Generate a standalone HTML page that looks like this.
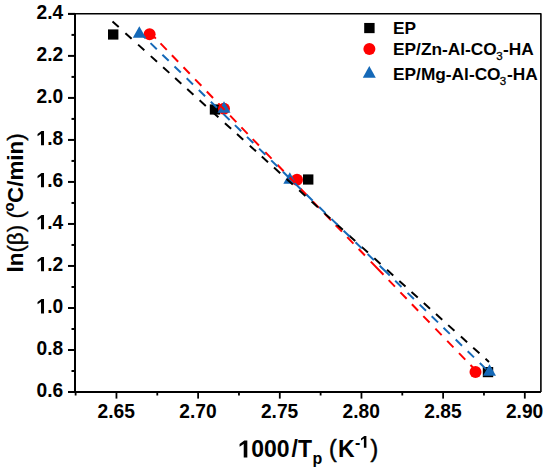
<!DOCTYPE html><html><head><meta charset="utf-8"><style>html,body{margin:0;padding:0;background:#fff;}svg{display:block;}text{font-family:"Liberation Sans",sans-serif;font-weight:bold;fill:#000;}</style></head><body>
<svg width="550" height="472" viewBox="0 0 550 472">
<path d="M68 13.75 L540.9 13.75 L540.9 392" fill="none" stroke="#000" stroke-width="1.6" stroke-linejoin="round"/>
<path d="M75 13.75 L75 392 L540.9 392" fill="none" stroke="#000" stroke-width="2"/>
<line x1="68" y1="392.00" x2="75" y2="392.00" stroke="#000" stroke-width="2"/>
<text transform="translate(36.61,397.40) scale(1,1.08)" font-size="19.2">0.6</text>
<line x1="68" y1="349.99" x2="75" y2="349.99" stroke="#000" stroke-width="2"/>
<text transform="translate(36.61,355.39) scale(1,1.08)" font-size="19.2">0.8</text>
<line x1="68" y1="307.98" x2="75" y2="307.98" stroke="#000" stroke-width="2"/>
<path d="M470 0L470 1120L100 890L100 1130L520 1409L790 1409L790 0Z" transform="translate(36.61,313.38) scale(0.00937,-0.01013)" fill="#000"/>
<text transform="translate(47.29,313.38) scale(1,1.08)" font-size="19.2">.0</text>
<line x1="68" y1="265.96" x2="75" y2="265.96" stroke="#000" stroke-width="2"/>
<path d="M470 0L470 1120L100 890L100 1130L520 1409L790 1409L790 0Z" transform="translate(36.61,271.36) scale(0.00937,-0.01013)" fill="#000"/>
<text transform="translate(47.29,271.36) scale(1,1.08)" font-size="19.2">.2</text>
<line x1="68" y1="223.95" x2="75" y2="223.95" stroke="#000" stroke-width="2"/>
<path d="M470 0L470 1120L100 890L100 1130L520 1409L790 1409L790 0Z" transform="translate(36.61,229.35) scale(0.00937,-0.01013)" fill="#000"/>
<text transform="translate(47.29,229.35) scale(1,1.08)" font-size="19.2">.4</text>
<line x1="68" y1="181.94" x2="75" y2="181.94" stroke="#000" stroke-width="2"/>
<path d="M470 0L470 1120L100 890L100 1130L520 1409L790 1409L790 0Z" transform="translate(36.61,187.34) scale(0.00937,-0.01013)" fill="#000"/>
<text transform="translate(47.29,187.34) scale(1,1.08)" font-size="19.2">.6</text>
<line x1="68" y1="139.93" x2="75" y2="139.93" stroke="#000" stroke-width="2"/>
<path d="M470 0L470 1120L100 890L100 1130L520 1409L790 1409L790 0Z" transform="translate(36.61,145.33) scale(0.00937,-0.01013)" fill="#000"/>
<text transform="translate(47.29,145.33) scale(1,1.08)" font-size="19.2">.8</text>
<line x1="68" y1="97.92" x2="75" y2="97.92" stroke="#000" stroke-width="2"/>
<text transform="translate(36.61,103.32) scale(1,1.08)" font-size="19.2">2.0</text>
<line x1="68" y1="55.90" x2="75" y2="55.90" stroke="#000" stroke-width="2"/>
<text transform="translate(36.61,61.30) scale(1,1.08)" font-size="19.2">2.2</text>
<line x1="68" y1="13.89" x2="75" y2="13.89" stroke="#000" stroke-width="2"/>
<text transform="translate(36.61,19.29) scale(1,1.08)" font-size="19.2">2.4</text>
<line x1="71.5" y1="370.99" x2="75" y2="370.99" stroke="#000" stroke-width="2"/>
<line x1="71.5" y1="328.98" x2="75" y2="328.98" stroke="#000" stroke-width="2"/>
<line x1="71.5" y1="286.97" x2="75" y2="286.97" stroke="#000" stroke-width="2"/>
<line x1="71.5" y1="244.96" x2="75" y2="244.96" stroke="#000" stroke-width="2"/>
<line x1="71.5" y1="202.95" x2="75" y2="202.95" stroke="#000" stroke-width="2"/>
<line x1="71.5" y1="160.93" x2="75" y2="160.93" stroke="#000" stroke-width="2"/>
<line x1="71.5" y1="118.92" x2="75" y2="118.92" stroke="#000" stroke-width="2"/>
<line x1="71.5" y1="76.91" x2="75" y2="76.91" stroke="#000" stroke-width="2"/>
<line x1="71.5" y1="34.90" x2="75" y2="34.90" stroke="#000" stroke-width="2"/>
<line x1="116.45" y1="392" x2="116.45" y2="398.6" stroke="#000" stroke-width="1.8"/>
<text transform="translate(116.25,417.7) scale(1,1.06)" font-size="19.2" text-anchor="middle">2.65</text>
<line x1="198.12" y1="392" x2="198.12" y2="398.6" stroke="#000" stroke-width="1.8"/>
<text transform="translate(197.92,417.7) scale(1,1.06)" font-size="19.2" text-anchor="middle">2.70</text>
<line x1="279.79" y1="392" x2="279.79" y2="398.6" stroke="#000" stroke-width="1.8"/>
<text transform="translate(279.59,417.7) scale(1,1.06)" font-size="19.2" text-anchor="middle">2.75</text>
<line x1="361.46" y1="392" x2="361.46" y2="398.6" stroke="#000" stroke-width="1.8"/>
<text transform="translate(361.26,417.7) scale(1,1.06)" font-size="19.2" text-anchor="middle">2.80</text>
<line x1="443.13" y1="392" x2="443.13" y2="398.6" stroke="#000" stroke-width="1.8"/>
<text transform="translate(442.93,417.7) scale(1,1.06)" font-size="19.2" text-anchor="middle">2.85</text>
<line x1="524.80" y1="392" x2="524.80" y2="398.6" stroke="#000" stroke-width="1.8"/>
<text transform="translate(524.60,417.7) scale(1,1.06)" font-size="19.2" text-anchor="middle">2.90</text>
<line x1="75.62" y1="392" x2="75.62" y2="395.5" stroke="#000" stroke-width="1.8"/>
<line x1="157.28" y1="392" x2="157.28" y2="395.5" stroke="#000" stroke-width="1.8"/>
<line x1="238.96" y1="392" x2="238.96" y2="395.5" stroke="#000" stroke-width="1.8"/>
<line x1="320.62" y1="392" x2="320.62" y2="395.5" stroke="#000" stroke-width="1.8"/>
<line x1="402.30" y1="392" x2="402.30" y2="395.5" stroke="#000" stroke-width="1.8"/>
<line x1="483.97" y1="392" x2="483.97" y2="395.5" stroke="#000" stroke-width="1.8"/>
<text transform="translate(0,457.4) scale(1,1.065)" font-size="23"><tspan x="251.24" y="0">000</tspan><tspan x="291.6" y="0">/T</tspan><tspan x="312.6" y="6.2" font-size="16">p</tspan><tspan x="328.97" y="0" font-weight="normal" stroke="#000" stroke-width="0.5">(</tspan><tspan x="338.1" y="0">K</tspan><tspan x="354.9" y="-9.0" font-size="16">-</tspan><tspan x="370.4" y="0" font-weight="normal" stroke="#000" stroke-width="0.5">)</tspan></text>
<path d="M470 0L470 1120L100 890L100 1130L520 1409L790 1409L790 0Z" transform="translate(238.45,457.40) scale(0.01123,-0.01196)" fill="#000"/>
<path d="M470 0L470 1120L100 890L100 1130L520 1409L790 1409L790 0Z" transform="translate(360.23,447.81) scale(0.00781,-0.00832)" fill="#000"/>
<text transform="translate(23.0,272.5) rotate(-90) scale(1,0.95)" font-size="22.4">ln<tspan font-weight="normal" stroke="#000" stroke-width="0.35">(β) (</tspan><tspan font-size="14.8" dy="-9.4" dx="-0.3">o</tspan><tspan dy="9.4" dx="-0.5">C/min</tspan><tspan font-weight="normal" stroke="#000" stroke-width="0.5">)</tspan></text>
<rect x="108.00" y="29.40" width="10.4" height="10.2" fill="#000"/>
<rect x="209.80" y="104.40" width="10.4" height="10.2" fill="#000"/>
<rect x="303.00" y="174.40" width="10.4" height="10.2" fill="#000"/>
<rect x="482.80" y="367.00" width="10.4" height="10.2" fill="#000"/>
<circle cx="149.60" cy="34.20" r="6" fill="#ff0000"/>
<circle cx="224.00" cy="108.80" r="6" fill="#ff0000"/>
<circle cx="297.00" cy="179.80" r="6" fill="#ff0000"/>
<circle cx="475.50" cy="371.90" r="6" fill="#ff0000"/>
<path d="M139.30 26.27 L145.80 37.87 L132.80 37.87 Z" fill="#1569b8"/>
<path d="M224.00 101.27 L230.50 112.87 L217.50 112.87 Z" fill="#1569b8"/>
<path d="M289.80 172.27 L296.30 183.87 L283.30 183.87 Z" fill="#1569b8"/>
<path d="M489.50 364.27 L496.00 375.87 L483.00 375.87 Z" fill="#1569b8"/>
<path d="M149.60 32.11L155.85 38.59M160.50 43.42L166.75 49.90M171.90 55.25L178.15 61.73M183.50 67.28L189.75 73.77M195.10 79.32L201.35 85.80M206.80 91.46L213.05 97.94M218.30 103.39L224.55 109.87M230.10 115.63L236.35 122.11M241.40 127.35L247.65 133.84M252.70 139.08L258.95 145.56M265.30 152.15L271.55 158.63M277.40 164.70L283.65 171.19M289.50 177.26L295.75 183.74M300.60 188.77L306.85 195.26M312.80 201.43L319.05 207.91M324.80 213.88L331.05 220.36M335.70 225.19L341.95 231.67M347.20 237.12L353.45 243.60M358.70 249.05L364.95 255.54M370.80 261.61L383.50 274.78M388.70 280.18L394.95 286.66M400.40 292.32L406.65 298.80M411.90 304.25L418.15 310.73M423.30 316.07L429.55 322.56M435.40 328.63L441.65 335.11M447.20 340.87L453.45 347.35M459.00 353.11L465.25 359.60M470.50 365.04L475.50 370.23" stroke="#ff0000" stroke-width="2" fill="none"/>
<path d="M112.50 21.48L118.73 27.11M125.40 33.14L131.63 38.78M138.10 44.63L144.33 50.27M150.80 56.12L157.03 61.75M163.10 67.24L169.33 72.88M175.10 78.10L181.33 83.73M187.20 89.04L193.43 94.68M199.60 100.26L205.83 105.89M212.20 111.65L218.43 117.29M224.90 123.14L231.13 128.78M237.00 134.09L243.23 139.72M249.80 145.66L256.03 151.30M261.80 156.52L268.03 162.15M274.00 167.55L280.23 173.19M286.60 178.95L292.83 184.58M299.20 190.35L305.43 195.98M311.60 201.56L317.83 207.20M324.10 212.87L330.33 218.50M336.60 224.17L342.83 229.81M349.00 235.39L355.23 241.03M361.70 246.88L367.93 252.51M374.30 258.27L380.53 263.91M387.00 269.76L393.23 275.40M399.30 280.89L405.53 286.52M411.50 291.92L417.73 297.56M423.80 303.05L430.03 308.68M436.00 314.08L442.23 319.72M448.20 325.12L454.43 330.75M460.90 336.60L467.13 342.24M473.20 347.73L479.43 353.36M485.50 358.85L489.00 362.02" stroke="#000" stroke-width="2" fill="none"/>
<path d="M139.30 32.26L145.61 38.39M150.50 43.14L156.81 49.27M162.40 54.70L168.71 60.83M174.50 66.45L180.81 72.58M186.70 78.30L193.01 84.43M198.80 90.05L205.11 96.18M210.80 101.71L217.11 107.84M223.30 113.85L229.61 119.98M234.90 125.12L241.21 131.25M247.00 136.87L253.31 143.00M259.10 148.62L265.41 154.75M271.20 160.38L277.51 166.51M283.00 171.84L289.31 177.97M294.60 183.10L300.91 189.23M306.40 194.57L312.71 200.70M319.20 207.00L325.51 213.13M331.40 218.85L337.71 224.98M343.60 230.70L349.91 236.83M355.50 242.26L361.81 248.39M367.60 254.01L373.91 260.14M379.70 265.76L389.80 275.57M395.20 280.82L401.51 286.95M407.60 292.86L413.91 298.99M419.70 304.61L426.01 310.74M431.70 316.27L438.01 322.40M443.50 327.73L449.81 333.86M455.70 339.58L462.01 345.71M467.70 351.24L474.01 357.37M479.80 362.99L486.11 369.12" stroke="#1569b8" stroke-width="2" fill="none"/>
<rect x="364.20" y="22.95" width="10.4" height="10.2" fill="#000"/>
<circle cx="369.40" cy="48.90" r="6" fill="#ff0000"/>
<path d="M369.30 66.07 L375.80 77.67 L362.80 77.67 Z" fill="#1569b8"/>
<text transform="translate(0,33.8) scale(1,1.0)" font-size="17.3"><tspan x="393.05" y="0">EP</tspan></text>
<text transform="translate(0,54.8) scale(1,1.0)" font-size="17.3"><tspan x="393.05" y="0">EP/Zn-Al-CO</tspan><tspan x="496.25" y="5.2" font-size="11.5" font-weight="normal" stroke="#000" stroke-width="0.3">3</tspan><tspan x="503.1" y="0">-HA</tspan></text>
<text transform="translate(0,80.1) scale(1,1.0)" font-size="17.3"><tspan x="393.05" y="0">EP/Mg-Al-CO</tspan><tspan x="499.65" y="5.0" font-size="11.5" font-weight="normal" stroke="#000" stroke-width="0.3">3</tspan><tspan x="507.1" y="0">-HA</tspan></text>
</svg></body></html>
